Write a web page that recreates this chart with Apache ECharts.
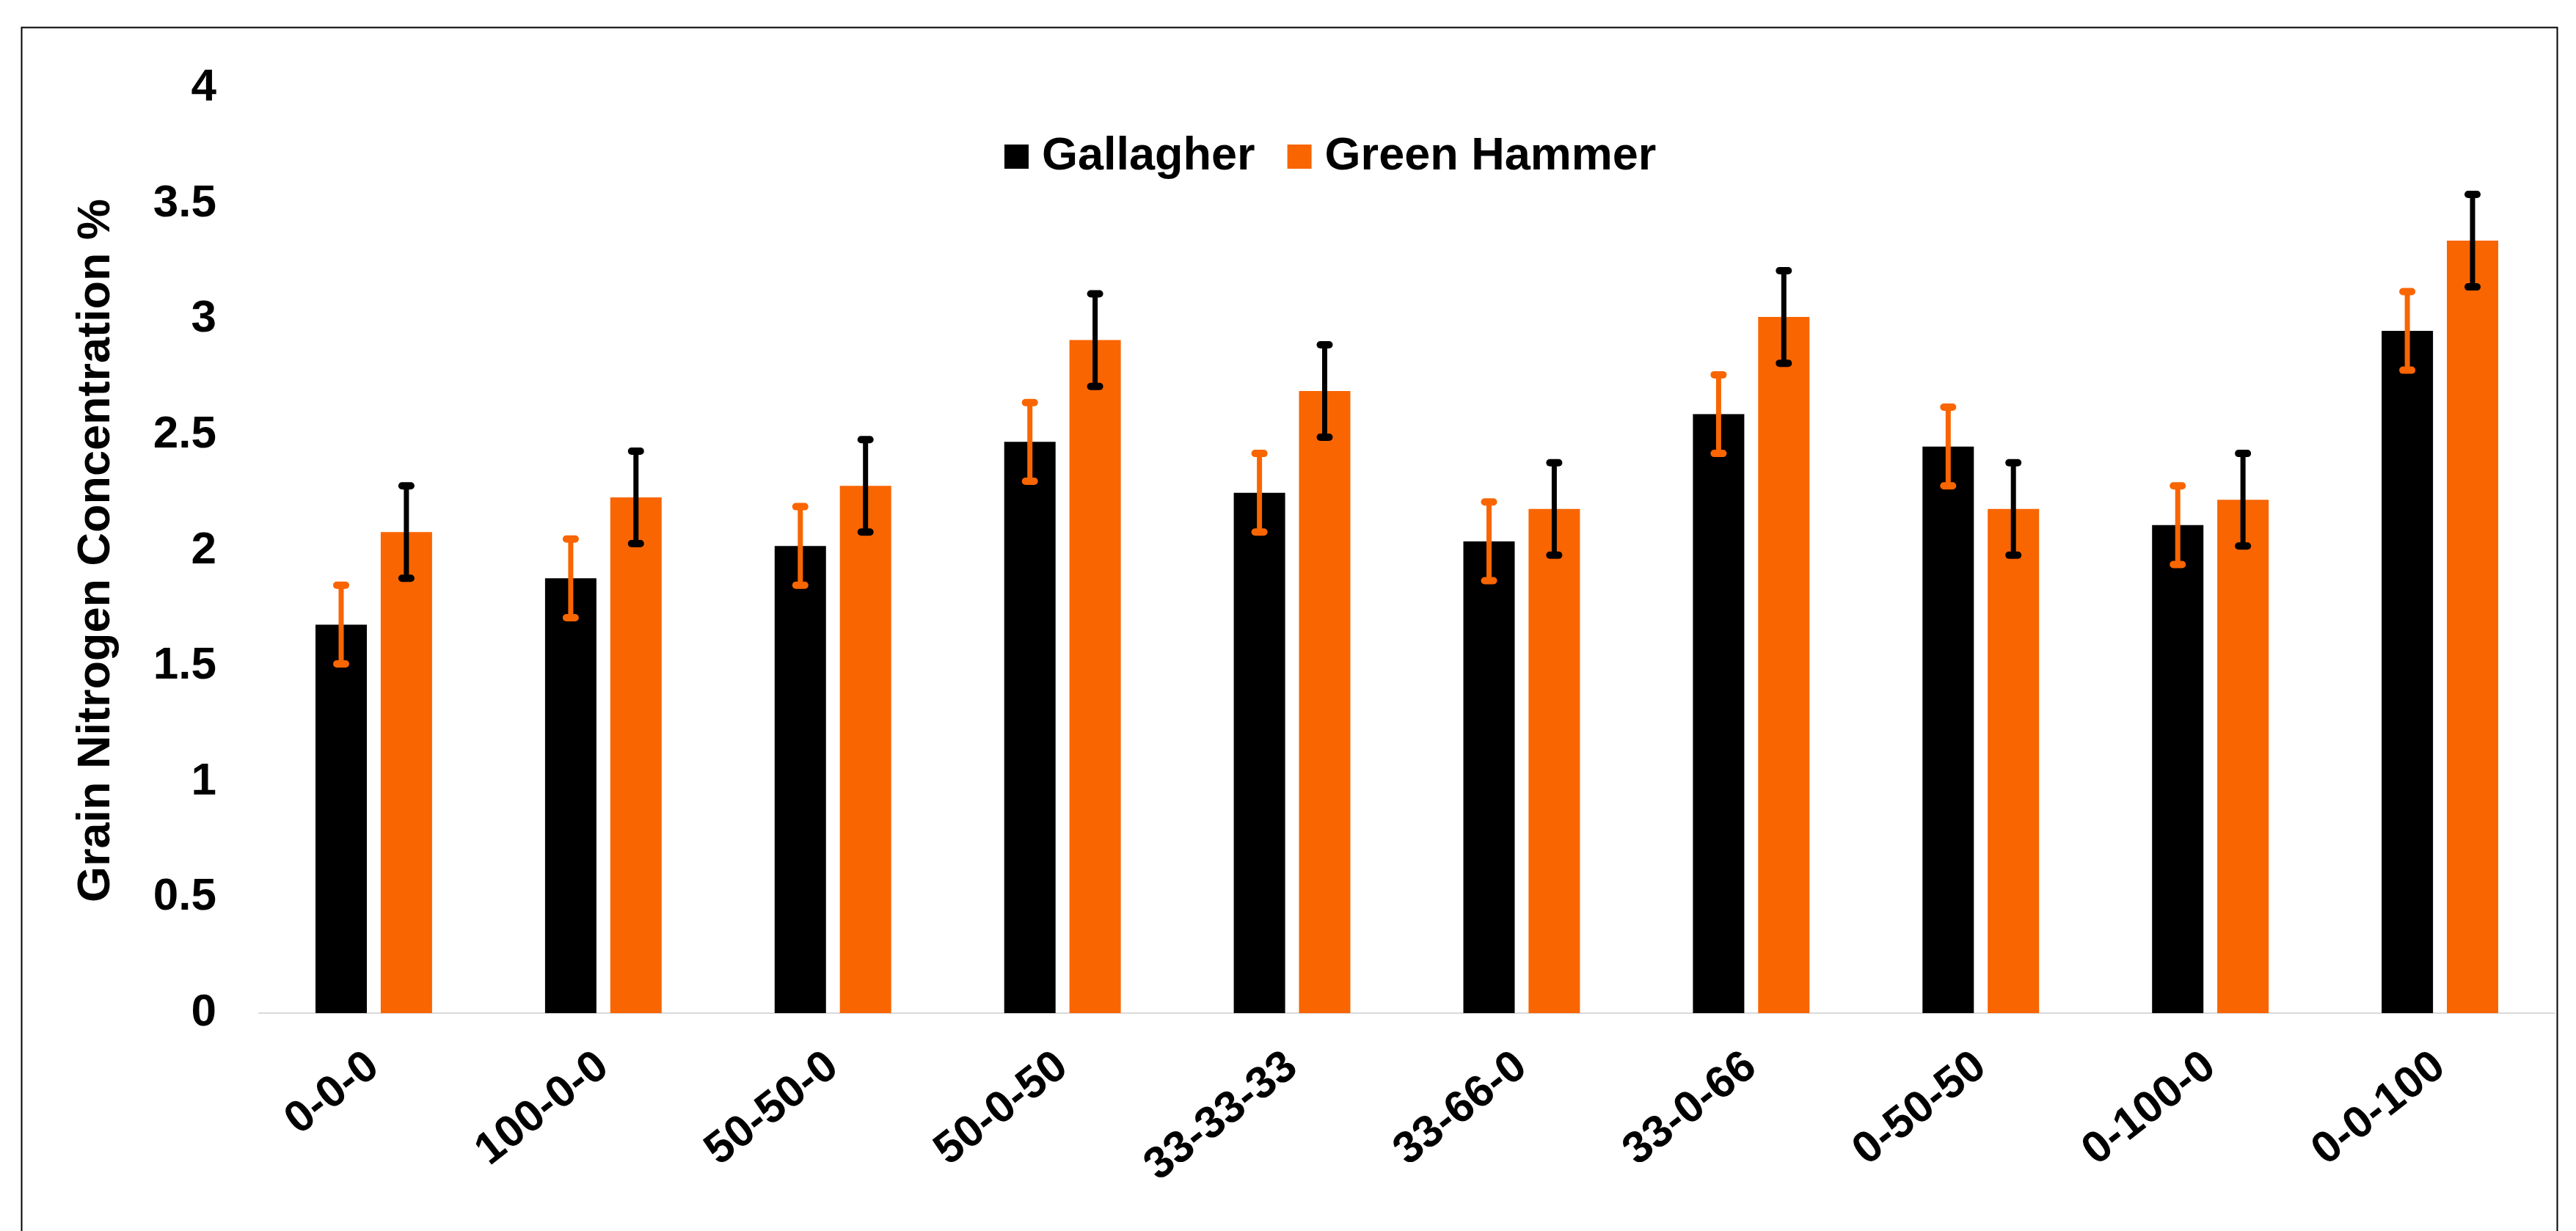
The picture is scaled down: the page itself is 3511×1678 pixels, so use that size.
<!DOCTYPE html>
<html>
<head>
<meta charset="utf-8">
<script src="https://cdn.jsdelivr.net/npm/echarts@6/dist/echarts.min.js"></script>
<style>
html,body{margin:0;padding:0;background:#fff;}
#chart{width:3511px;height:1678px;}
</style>
</head>
<body>
<div id="chart"></div>
<script>
var categories = ['0-0-0','100-0-0','50-50-0','50-0-50','33-33-33','33-66-0','33-0-66','0-50-50','0-100-0','0-0-100'];
var gallagher = [1.68, 1.88, 2.02, 2.47, 2.25, 2.04, 2.59, 2.45, 2.11, 2.95];
var greenHammer = [2.08, 2.23, 2.28, 2.91, 2.69, 2.18, 3.01, 2.18, 2.22, 3.34];
var gallagherErr = [0.17, 0.17, 0.17, 0.17, 0.17, 0.17, 0.17, 0.17, 0.17, 0.17];
var greenHammerErr = [0.2, 0.2, 0.2, 0.2, 0.2, 0.2, 0.2, 0.2, 0.2, 0.2];
var yTicks = {min: 0, max: 4, interval: 0.5};

var BLACK = '#000000';
var ORANGE = '#F96501';
var BAR_W = 70;
var BAR_GAP = 0.27;
var FONT = '"Liberation Sans", Arial, sans-serif';

function errData(vals, errs) {
  return vals.map(function (v, i) { return [i, v - errs[i], v + errs[i]]; });
}

function makeRender(sign, color) {
  return function (params, api) {
    var i = api.value(0);
    var lo = api.coord([i, api.value(1)]);
    var hi = api.coord([i, api.value(2)]);
    var off = sign * (BAR_W / 2 + BAR_W * BAR_GAP / 2);
    var cx = lo[0] + off;
    var cap = 6;
    return {
      type: 'group',
      children: [
        {type: 'line', shape: {x1: cx, y1: hi[1], x2: cx, y2: lo[1]}, style: {stroke: color, lineWidth: 7}},
        {type: 'line', shape: {x1: cx - cap, y1: hi[1], x2: cx + cap, y2: hi[1]}, style: {stroke: color, lineWidth: 10, lineCap: 'round'}},
        {type: 'line', shape: {x1: cx - cap, y1: lo[1], x2: cx + cap, y2: lo[1]}, style: {stroke: color, lineWidth: 10, lineCap: 'round'}}
      ]
    };
  };
}

var chart = echarts.init(document.getElementById('chart'), null, {renderer: 'canvas'});
chart.setOption({
  backgroundColor: '#ffffff',
  animation: false,
  textStyle: {fontFamily: FONT},
  graphic: [{
    type: 'rect',
    left: 27, top: 35,
    shape: {x: 0, y: 0, width: 3456, height: 1800},
    style: {fill: 'none', stroke: '#000', lineWidth: 2},
    silent: true
  }],
  legend: {
    data: ['Gallagher', 'Green Hammer'],
    left: 1369, top: 182,
    padding: 0,
    itemWidth: 33, itemHeight: 33,
    itemGap: 44,
    icon: 'rect',
    textStyle: {fontSize: 63, fontWeight: 'bold', color: '#000', fontFamily: FONT, padding: [0, 0, 0, 13]}
  },
  grid: {left: 353, right: 29, top: 120, bottom: 297, containLabel: false},
  xAxis: {
    type: 'category',
    data: categories,
    axisLine: {show: true, lineStyle: {color: '#D9D9D9', width: 2}},
    axisTick: {show: false},
    axisLabel: {
      interval: 0, rotate: 38, margin: 66,
      fontSize: 61, fontWeight: 'bold', color: '#000', fontFamily: FONT
    },
    splitLine: {show: false}
  },
  yAxis: {
    type: 'value',
    min: yTicks.min, max: yTicks.max, interval: yTicks.interval,
    name: 'Grain Nitrogen Concentration %',
    nameLocation: 'middle',
    nameRotate: 90,
    nameGap: 190,
    nameTextStyle: {fontSize: 63, fontWeight: 'bold', color: '#000', fontFamily: FONT},
    axisLine: {show: false},
    axisTick: {show: false},
    splitLine: {show: false},
    axisLabel: {fontSize: 62, fontWeight: 'bold', color: '#000', margin: 58, fontFamily: FONT}
  },
  series: [
    {name: 'Gallagher', type: 'bar', data: gallagher, barWidth: BAR_W, barGap: (BAR_GAP * 100) + '%',
     itemStyle: {color: BLACK}},
    {name: 'Green Hammer', type: 'bar', data: greenHammer, barWidth: BAR_W,
     itemStyle: {color: ORANGE}},
    {name: 'Gallagher error', type: 'custom', renderItem: makeRender(-1, ORANGE),
     data: errData(gallagher, gallagherErr), encode: {x: 0, y: [1, 2]}, z: 10},
    {name: 'Green Hammer error', type: 'custom', renderItem: makeRender(1, BLACK),
     data: errData(greenHammer, greenHammerErr), encode: {x: 0, y: [1, 2]}, z: 10}
  ]
});
</script>
</body>
</html>
